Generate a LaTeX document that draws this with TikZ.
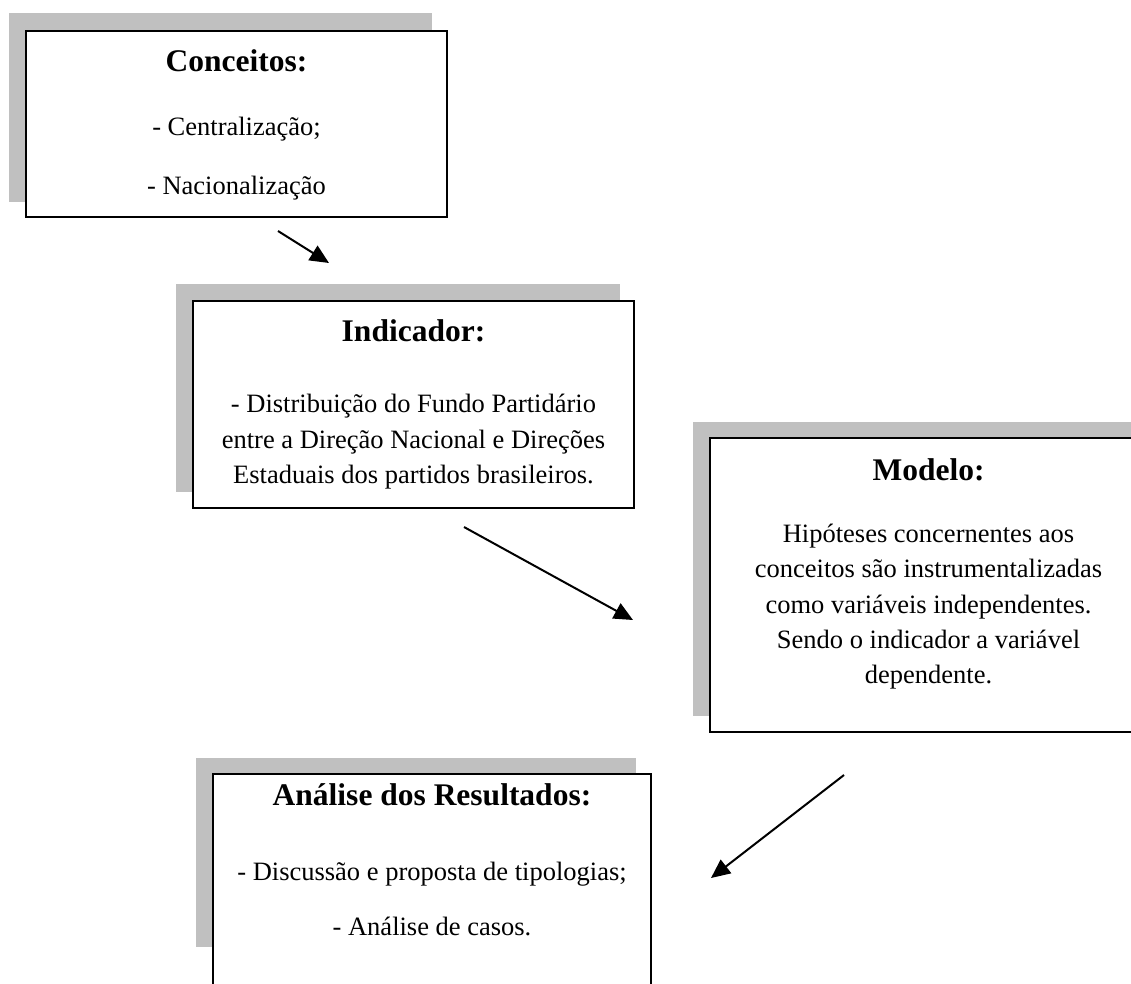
\documentclass[tikz,border=0pt]{standalone}
\usepackage{fontspec}
\setmainfont{Liberation Serif}
\usetikzlibrary{arrows.meta}
\definecolor{shadowgray}{RGB}{192,192,192}
\tikzset{
  shadowbox/.style={rectangle, fill=shadowgray, draw=none, anchor=north west, inner sep=0pt, outer sep=0pt},
  mainbox/.style={rectangle, fill=white, draw=black, line width=2pt, anchor=north west, inner sep=0pt, outer sep=0pt},
  titletext/.style={anchor=base, inner sep=0pt, font=\bfseries\fontsize{31.5}{35}\selectfont},
  bodytext/.style={anchor=base, inner sep=0pt, font=\fontsize{26.5}{35}\selectfont},
  flowarrow/.style={line width=2pt, -{Triangle[length=19pt,width=17pt]}}
}
\begin{document}
\begin{tikzpicture}[x=1pt,y=-1pt]
\useasboundingbox (0,0) rectangle (1131,983);
\clip (0,0) rectangle (1131,983);
% Box 1: Conceitos
\node[shadowbox, minimum width=423pt, minimum height=189pt] (s1) at (9,13) {};
\node[mainbox, minimum width=421pt, minimum height=186pt] (b1) at (26,31) {};
\node[titletext] (t1) at (236.5,71) {Conceitos:};
\node[bodytext] (l11) at (236.5,135) {- Centralização;};
\node[bodytext] (l12) at (236.5,194) {- Nacionalização};
% Box 2: Indicador
\node[shadowbox, minimum width=444pt, minimum height=208pt] (s2) at (176,284) {};
\node[mainbox, minimum width=441pt, minimum height=207pt] (b2) at (193,301) {};
\node[titletext] (t2) at (413.5,341) {Indicador:};
\node[bodytext] (l21) at (413.5,412) {- Distribuição do Fundo Partidário};
\node[bodytext] (l22) at (413.5,448) {entre a Direção Nacional e Direções};
\node[bodytext] (l23) at (413.5,483) {Estaduais dos partidos brasileiros.};
% Box 3: Modelo
\node[shadowbox, minimum width=446pt, minimum height=294pt] (s3) at (693,422) {};
\node[mainbox, minimum width=437pt, minimum height=294pt] (b3) at (710,438) {};
\node[titletext] (t3) at (928.5,480) {Modelo:};
\node[bodytext] (l31) at (928.5,542) {Hipóteses concernentes aos};
\node[bodytext] (l32) at (928.5,577) {conceitos são instrumentalizadas};
\node[bodytext] (l33) at (928.5,613) {como variáveis independentes.};
\node[bodytext] (l34) at (928.5,648) {Sendo o indicador a variável};
\node[bodytext] (l35) at (928.5,683) {dependente.};
% Box 4: Analise dos Resultados
\node[shadowbox, minimum width=440pt, minimum height=189pt] (s4) at (196,758) {};
\node[mainbox, minimum width=438pt, minimum height=240pt] (b4) at (213,774) {};
\node[titletext] (t4) at (432,805) {Análise dos Resultados:};
\node[bodytext] (l41) at (432,880) {- Discussão e proposta de tipologias;};
\node[bodytext] (l42) at (432,935) {- Análise de casos.};
% Arrows
\coordinate (a1s) at (278,231);
\coordinate (a1e) at (329,263);
\coordinate (a2s) at (464,527);
\coordinate (a2e) at (633,620);
\coordinate (a3s) at (844,775);
\coordinate (a3e) at (711,878);
\draw[flowarrow] (a1s) -- (a1e);
\draw[flowarrow] (a2s) -- (a2e);
\draw[flowarrow] (a3s) -- (a3e);
\end{tikzpicture}
\end{document}
